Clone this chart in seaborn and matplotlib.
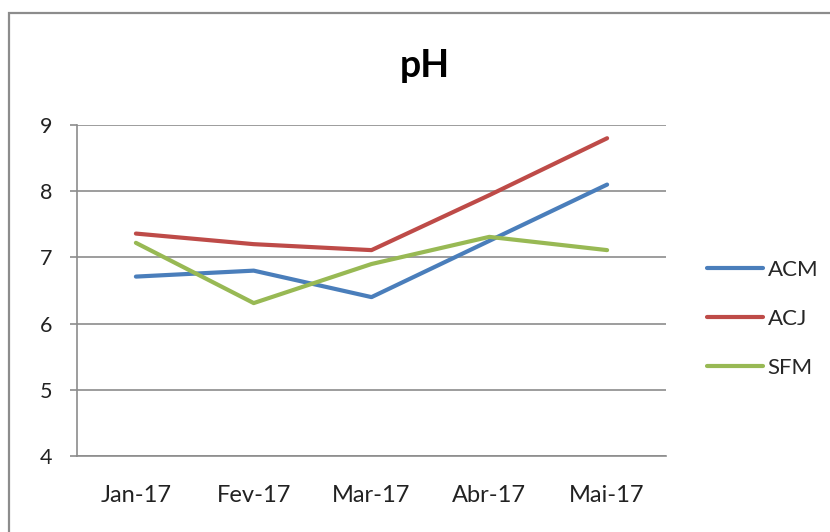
import matplotlib
matplotlib.use("Agg")
import matplotlib.pyplot as plt
import seaborn as sns
import pandas as pd
from matplotlib.patches import Rectangle
from matplotlib.lines import Line2D

months = ["Jan-17", "Fev-17", "Mar-17", "Abr-17", "Mai-17"]
acm = [6.71, 6.8, 6.4, 7.25, 8.1]
acj = [7.36, 7.2, 7.11, 7.94, 8.8]
sfm = [7.22, 6.31, 6.9, 7.31, 7.11]
series = ["ACM", "ACJ", "SFM"]
colors = ["#4A7EBB", "#BE4B48", "#98B954"]

rows = []
for name, vals in zip(series, [acm, acj, sfm]):
    for i, (m, v) in enumerate(zip(months, vals)):
        rows.append({"pos": i, "Mes": m, "pH": v, "Serie": name})
df = pd.DataFrame(rows)

sns.set_theme(style="white")
plt.rcParams["font.family"] = ["Lato", "DejaVu Sans"]

fig = plt.figure(figsize=(8.3, 5.32), dpi=100)
fig.patches.append(Rectangle((9/830, -0.05), 1.2, 1 - 13/532 + 0.05, transform=fig.transFigure,
                             fill=False, edgecolor="#8c8c8c", linewidth=1.6))
ax = fig.add_axes([77/830, 1 - 456/532, (666 - 77)/830, (456 - 125)/532])

sns.lineplot(data=df, x="pos", y="pH", hue="Serie", hue_order=series,
             palette=colors, linewidth=3.0, ax=ax, legend=False, sort=False)
for l in ax.lines:
    l.set_solid_capstyle("round")
    l.set_solid_joinstyle("round")

ax.set_xlim(-0.5, 4.5)
ax.set_ylim(4, 9)
ax.set_yticks([4, 5, 6, 7, 8, 9])
ax.set_yticklabels(["4", "5", "6", "7", "8", "9"], fontsize=15.5, color="#222222")
ax.set_xticks(range(5))
ax.set_xticklabels(months, fontsize=17, color="#222222")
ax.set_xticks([i - 0.5 for i in range(6)], minor=True)
ax.tick_params(axis="x", which="major", length=0, pad=21)
ax.tick_params(axis="x", which="minor", length=5, width=1.2, color="#8c8c8c", direction="out")
ax.tick_params(axis="y", length=5, width=1.2, color="#8c8c8c", direction="out", pad=13, left=True)
ax.set_xlabel("")
ax.set_ylabel("")
ax.grid(axis="y", color="#8c8c8c", linewidth=1.2)
ax.grid(axis="x", visible=False)
for s in ["top", "right"]:
    ax.spines[s].set_visible(False)
for s in ["left", "bottom"]:
    ax.spines[s].set_color("#8c8c8c")
    ax.spines[s].set_linewidth(1.2)

fig.text(425/830, 1 - 77/532, "pH", ha="center", va="baseline", fontsize=27, fontweight="bold", color="black")

handles = [Line2D([0], [0], color=c, linewidth=3.0, solid_capstyle="round") for c in colors]
fig.legend(handles, series, loc="center left", bbox_to_anchor=(687/830, 1 - 319/532),
           frameon=False, fontsize=16, handlelength=2.5, handletextpad=0.22, labelspacing=1.3)

fig.savefig("out.png", dpi=100)
